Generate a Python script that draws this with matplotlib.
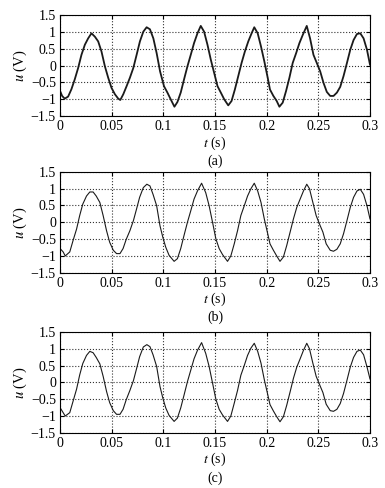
import matplotlib
matplotlib.use("Agg")
import matplotlib.pyplot as plt

# values (t in s, u in V)
t_a = [0.0, 0.002, 0.0045, 0.0078, 0.011, 0.0142, 0.0175, 0.0207, 0.024, 0.0272,
       0.0304, 0.0337, 0.0369, 0.0401, 0.0434, 0.0466, 0.0498, 0.0531, 0.0563, 0.0583,
       0.0612, 0.0644, 0.0676, 0.0709, 0.0741, 0.0773, 0.0806, 0.0838, 0.087, 0.0903,
       0.0935, 0.0968, 0.1006, 0.1039, 0.1071, 0.1107, 0.1136, 0.1168, 0.12, 0.1233,
       0.1265, 0.1297, 0.133, 0.1362, 0.1394, 0.1427, 0.1459, 0.1492, 0.1524, 0.1556,
       0.1589, 0.1628, 0.166, 0.1692, 0.1725, 0.1757, 0.1789, 0.1822, 0.1854, 0.188,
       0.1913, 0.1945, 0.1977, 0.201, 0.2032, 0.2065, 0.2097, 0.2123, 0.2155, 0.2188,
       0.222, 0.2252, 0.2285, 0.2317, 0.2349, 0.2388, 0.242, 0.2453, 0.2485, 0.2518,
       0.255, 0.2582, 0.2615, 0.2647, 0.268, 0.2712, 0.2744, 0.2777, 0.2809, 0.2841,
       0.2874, 0.2906, 0.2938, 0.2971, 0.3]
u_a = [-0.75, -0.9, -0.98, -0.92, -0.7, -0.41, -0.07, 0.32, 0.62, 0.81,
       0.96, 0.86, 0.72, 0.42, -0.02, -0.36, -0.66, -0.85, -0.98, -1.02,
       -0.85, -0.61, -0.36, -0.07, 0.32, 0.72, 1.01, 1.14, 1.08, 0.81,
       0.37, -0.17, -0.61, -0.8, -1.0, -1.22, -1.08, -0.8, -0.41, -0.02,
       0.32, 0.67, 0.96, 1.18, 1.01, 0.62, 0.18, -0.22, -0.61, -0.8,
       -1.0, -1.18, -1.05, -0.71, -0.31, 0.08, 0.42, 0.72, 0.96, 1.14,
       0.96, 0.57, 0.13, -0.36, -0.71, -0.9, -1.05, -1.22, -1.1, -0.75,
       -0.36, 0.08, 0.37, 0.67, 0.91, 1.18, 0.81, 0.32, 0.08, -0.17,
       -0.51, -0.78, -0.9, -0.9, -0.8, -0.63, -0.31, 0.08, 0.47, 0.76,
       0.94, 0.96, 0.81, 0.47, 0.03]

t_b = [0.0, 0.003, 0.005, 0.0094, 0.0126, 0.016, 0.019, 0.022, 0.0256, 0.0288,
       0.032, 0.035, 0.0385, 0.0417, 0.045, 0.048, 0.0515, 0.0547, 0.058, 0.061,
       0.064, 0.0676, 0.071, 0.074, 0.077, 0.0806, 0.084, 0.087, 0.09, 0.0935,
       0.0967, 0.0995, 0.1023, 0.1055, 0.1104, 0.1136, 0.1168, 0.12, 0.1233, 0.1265,
       0.1297, 0.133, 0.137, 0.141, 0.1443, 0.1476, 0.1508, 0.154, 0.1573, 0.1621,
       0.1653, 0.1686, 0.1718, 0.175, 0.1783, 0.1815, 0.1848, 0.188, 0.1913, 0.1945,
       0.1977, 0.201, 0.2032, 0.2065, 0.2097, 0.2129, 0.2162, 0.2194, 0.2227, 0.2259,
       0.2291, 0.2324, 0.2356, 0.2388, 0.2414, 0.2447, 0.2479, 0.2511, 0.2544, 0.2576,
       0.2615, 0.2647, 0.268, 0.2712, 0.2744, 0.2777, 0.2809, 0.2841, 0.2874, 0.2906,
       0.2938, 0.2971, 0.3]
u_b = [-0.78, -0.88, -1.0, -0.88, -0.54, -0.2, 0.2, 0.54, 0.78, 0.9,
       0.9, 0.78, 0.59, 0.2, -0.25, -0.59, -0.83, -0.93, -0.93, -0.78,
       -0.51, -0.25, 0.05, 0.39, 0.74, 1.03, 1.13, 1.08, 0.83, 0.49,
       -0.1, -0.45, -0.74, -0.98, -1.16, -1.08, -0.78, -0.39, 0.0, 0.34,
       0.69, 0.93, 1.16, 0.88, 0.49, 0.0, -0.49, -0.78, -0.96, -1.16,
       -1.0, -0.64, -0.25, 0.2, 0.49, 0.78, 1.0, 1.16, 0.93, 0.59,
       0.1, -0.34, -0.64, -0.83, -1.0, -1.16, -1.03, -0.69, -0.29, 0.1,
       0.44, 0.69, 0.93, 1.13, 1.0, 0.59, 0.2, -0.05, -0.29, -0.64,
       -0.83, -0.86, -0.8, -0.64, -0.34, 0.05, 0.44, 0.74, 0.93, 0.98,
       0.83, 0.49, 0.1]

t_c = t_b
u_c = [-0.75, -0.9, -1.0, -0.9, -0.56, -0.2, 0.22, 0.56, 0.8, 0.92,
       0.88, 0.74, 0.55, 0.18, -0.27, -0.6, -0.84, -0.95, -0.95, -0.8,
       -0.52, -0.24, 0.05, 0.4, 0.76, 1.05, 1.12, 1.06, 0.82, 0.47,
       -0.12, -0.47, -0.76, -0.98, -1.16, -1.06, -0.76, -0.38, 0.02, 0.36,
       0.7, 0.95, 1.18, 0.86, 0.47, -0.02, -0.5, -0.8, -0.97, -1.16,
       -1.0, -0.62, -0.24, 0.21, 0.5, 0.8, 1.02, 1.16, 0.92, 0.57,
       0.08, -0.36, -0.66, -0.85, -1.02, -1.17, -1.02, -0.68, -0.28, 0.12,
       0.45, 0.7, 0.95, 1.16, 1.0, 0.57, 0.18, -0.06, -0.3, -0.65,
       -0.84, -0.86, -0.8, -0.63, -0.33, 0.06, 0.45, 0.74, 0.92, 0.96,
       0.82, 0.46, 0.1]

x_ticks = [0, 0.05, 0.1, 0.15, 0.2, 0.25, 0.3]
x_labels = ["0", "0.05", "0.1", "0.15", "0.2", "0.25", "0.3"]
y_ticks = [-1.5, -1, -0.5, 0, 0.5, 1, 1.5]
y_labels = ["\u22121.5", "\u22121", "\u22120.5", "0", "0.5", "1", "1.5"]
panel_labels = ["(a)", "(b)", "(c)"]

plt.rcParams["font.family"] = ["Liberation Serif", "DejaVu Serif"]
plt.rcParams["mathtext.fontset"] = "stix"

fig = plt.figure(figsize=(3.85, 4.88), dpi=100)

bottoms = [0.762, 0.441, 0.113]
series = [(t_a, u_a, 1.3), (t_b, u_b, 0.8), (t_c, u_c, 0.8)]

for bottom, (t, u, lw), label in zip(bottoms, series, panel_labels):
    ax = fig.add_axes([0.156, bottom, 0.805, 0.207])
    ax.plot(t, u, color="#1a1a1a", linewidth=lw)
    ax.set_xlim(0, 0.3)
    ax.set_ylim(-1.5, 1.5)
    ax.set_xticks(x_ticks)
    ax.set_xticklabels(x_labels)
    ax.set_yticks(y_ticks)
    ax.set_yticklabels(y_labels)
    ax.grid(True, linestyle=":", color="#333333", linewidth=0.8)
    ax.tick_params(direction="in", top=True, right=True, length=3,
                   labelsize=10, pad=3)
    for spine in ax.spines.values():
        spine.set_linewidth(0.8)
    # axis labels and panel tag placed by hand, they sit close together
    ax.text(0.5, -0.265, r"$t$ (s)", transform=ax.transAxes, ha="center",
            va="center", fontsize=10)
    ax.set_ylabel(r"$u$ (V)", fontsize=10.5, labelpad=1)
    ax.text(0.5, -0.445, label, transform=ax.transAxes, ha="center",
            va="center", fontsize=10)

fig.savefig("out.png", dpi=100)
